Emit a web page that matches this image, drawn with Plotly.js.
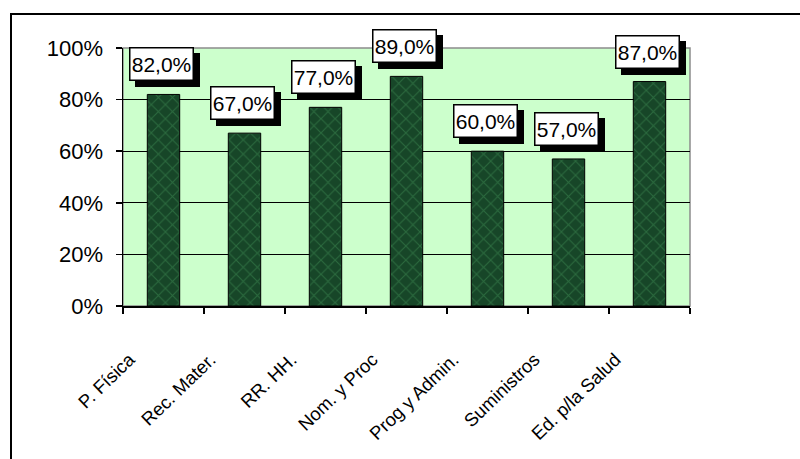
<!DOCTYPE html>
<html>
<head>
<meta charset="utf-8">
<script src="https://cdn.plot.ly/plotly-3.0.1.min.js"></script>
<style>
  html, body { margin: 0; padding: 0; background: #ffffff; }
  #chart { width: 800px; height: 459px; }
</style>
</head>
<body>
<div id="chart"></div>
<script>
const categories = ["P. Física", "Rec. Mater.", "RR. HH.", "Nom. y Proc", "Prog y Admin.", "Suministros", "Ed. p/la Salud"];
const values = [0.82, 0.67, 0.77, 0.89, 0.60, 0.57, 0.87];
const yTickValues = [0, 0.2, 0.4, 0.6, 0.8, 1.0];
const yTickLabels = ["0%", "20%", "40%", "60%", "80%", "100%"];

const W = 800, H = 459;
const M = { l: 123, r: 110, t: 48, b: 153 };
const pw = W - M.l - M.r, ph = H - M.t - M.b;
const px = v => (v - M.l) / pw;
const py = v => (H - M.b - v) / ph;

function fmt(v) { return (v * 100).toFixed(1).replace('.', ',') + '%'; }

const font = "Arial, 'Liberation Sans', sans-serif";

const trace = {
  type: 'bar',
  x: categories,
  y: values,
  marker: {
    color: '#1d5230',
    line: { color: '#000000', width: 1 },
    pattern: { shape: 'x', fgcolor: '#2b6a3e', bgcolor: '#174628', size: 10, solidity: 0.2, fillmode: 'replace' }
  },
  width: 0.4,
  hoverinfo: 'skip'
};

const shapes = [
  { type: 'rect', xref: 'paper', yref: 'paper', x0: 0, x1: 1, y0: 0, y1: 1,
    line: { color: '#8c8c8c', width: 1.5 }, layer: 'below' },
  { type: 'rect', xref: 'paper', yref: 'paper',
    x0: px(11), x1: px(820), y0: py(480), y1: py(14),
    line: { color: '#000000', width: 2 }, fillcolor: 'rgba(0,0,0,0)', layer: 'above' }
];
const annotations = [];
categories.forEach((c, i) => {
  // drop shadow box
  annotations.push({
    x: c, y: values[i], xref: 'x', yref: 'y',
    text: ' ', showarrow: false,
    xanchor: 'center', yanchor: 'bottom',
    width: 65, height: 34, borderpad: 0, borderwidth: 0,
    xshift: 3.5, yshift: 7,
    font: { family: font, size: 21, color: '#000000' },
    bgcolor: '#000000'
  });
});
categories.forEach((c, i) => {
  // white label box with value
  annotations.push({
    x: c, y: values[i], xref: 'x', yref: 'y',
    text: fmt(values[i]), showarrow: false,
    xanchor: 'center', yanchor: 'bottom',
    width: 62, height: 31, borderpad: 0, borderwidth: 1.5,
    xshift: -2.5, yshift: 13,
    font: { family: font, size: 21, color: '#000000' },
    bgcolor: '#ffffff', bordercolor: '#000000'
  });
});

const layout = {
  width: W, height: H,
  margin: M,
  paper_bgcolor: '#ffffff',
  plot_bgcolor: '#ccffcc',
  showlegend: false,
  font: { family: font, color: '#000000' },
  xaxis: {
    type: 'category',
    showgrid: false,
    showline: true, linecolor: '#000000', linewidth: 1.5,
    ticks: 'outside', ticklen: 6, tickcolor: '#000000', tickwidth: 1.5,
    tickson: 'boundaries',
    tickangle: -44,
    tickfont: { family: font, size: 18.5, color: '#000000' },
    ticklabelshift: -34,
    ticklabelstandoff: 34,
    fixedrange: true
  },
  yaxis: {
    range: [0, 1],
    tickvals: yTickValues,
    ticktext: yTickLabels,
    showgrid: true, gridcolor: '#000000', gridwidth: 1,
    zeroline: false,
    showline: true, linecolor: '#000000', linewidth: 1.5,
    ticks: 'outside', ticklen: 6, tickcolor: '#000000', tickwidth: 1.5,
    tickfont: { family: font, size: 22, color: '#000000' },
    ticklabelstandoff: 8,
    fixedrange: true
  },
  shapes: shapes,
  annotations: annotations,
  bargap: 0.6
};

Plotly.newPlot('chart', [trace], layout, { displayModeBar: false, staticPlot: true });
</script>
</body>
</html>
